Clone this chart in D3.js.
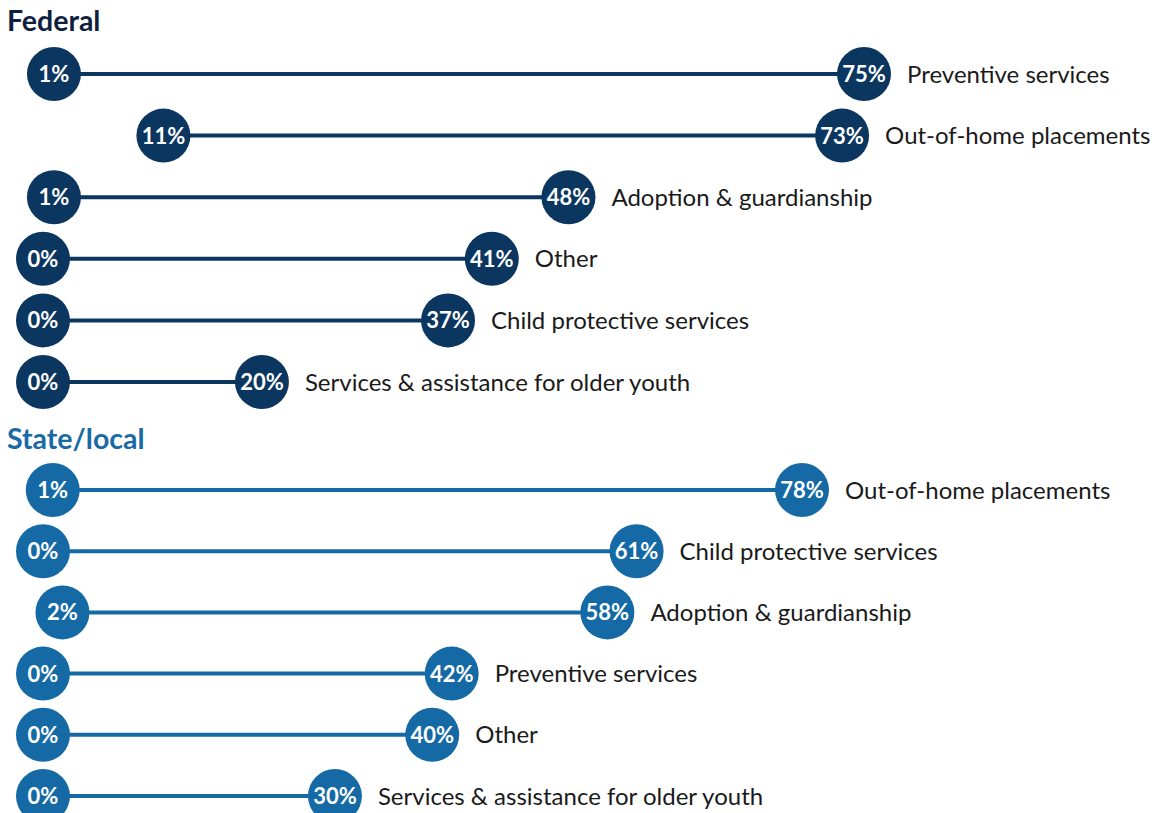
<!DOCTYPE html>
<html>
<head>
<meta charset="utf-8">
<script src="https://cdn.jsdelivr.net/npm/d3@7"></script>
<style>
  body { margin: 0; background: #fff; }
  svg text { font-family: Lato, "Noto Sans", sans-serif; }
</style>
</head>
<body>
<div id="chart-area"></div>
<script>
// Federal panel
const fedCategories = ["Preventive services", "Out-of-home placements", "Adoption & guardianship",
    "Other", "Child protective services", "Services & assistance for older youth"];
const fedMin = [1, 11, 1, 0, 0, 0];
const fedMax = [75, 73, 48, 41, 37, 20];

// State/local panel
const stateCategories = ["Out-of-home placements", "Child protective services", "Adoption & guardianship",
    "Preventive services", "Other", "Services & assistance for older youth"];
const stateMin = [1, 0, 2, 0, 0, 0];
const stateMax = [78, 61, 58, 42, 40, 30];

const width = 1155;
const height = 813;
const r = 27;

const svg = d3.select("#chart-area")
    .append("svg")
    .attr("width", width)
    .attr("height", height);

function panel(opts) {
    const rows = opts.cats.map((c, i) => ({ cat: c, lo: opts.lo[i], hi: opts.hi[i] }));

    const x = d3.scaleLinear().domain([0, opts.domainMax]).range([43, opts.rangeMax]);
    const y = d3.scalePoint().domain(opts.cats).range([opts.y0, opts.y1]);

    svg.append("text")
        .attr("x", 7)
        .attr("y", opts.titleY)
        .attr("font-size", 28.5)
        .attr("font-weight", 700)
        .attr("fill", opts.titleColor)
        .text(opts.title);

    const g = svg.append("g");
    const row = g.selectAll("g.row")
        .data(rows)
        .enter().append("g")
        .attr("class", "row")
        .attr("transform", d => `translate(0, ${y(d.cat)})`);

    row.append("line")
        .attr("x1", d => x(d.lo))
        .attr("x2", d => x(d.hi))
        .attr("stroke", opts.color)
        .attr("stroke-width", 4);

    ["lo", "hi"].forEach(k => {
        row.append("circle")
            .attr("cx", d => x(d[k]))
            .attr("r", r)
            .attr("fill", opts.color);
        row.append("text")
            .attr("x", d => x(d[k]))
            .attr("dy", "0.36em")
            .attr("text-anchor", "middle")
            .attr("font-size", 22)
            .attr("font-weight", 700)
            .attr("fill", "#fff")
            .text(d => d[k] + "%");
    });

    row.append("text")
        .attr("x", d => x(d.hi) + 43)
        .attr("dy", "0.36em")
        .attr("font-size", 24)
        .attr("fill", "#1a1a1a")
        .text(d => d.cat);
}

panel({
    title: "Federal", titleY: 31, titleColor: "#0f1f40", color: "#0b365f",
    cats: fedCategories, lo: fedMin, hi: fedMax,
    domainMax: 75, rangeMax: 864, y0: 74, y1: 382
});

panel({
    title: "State/local", titleY: 449, titleColor: "#1a6aa6", color: "#156aa6",
    cats: stateCategories, lo: stateMin, hi: stateMax,
    domainMax: 78, rangeMax: 802, y0: 490, y1: 796
});
</script>
</body>
</html>
